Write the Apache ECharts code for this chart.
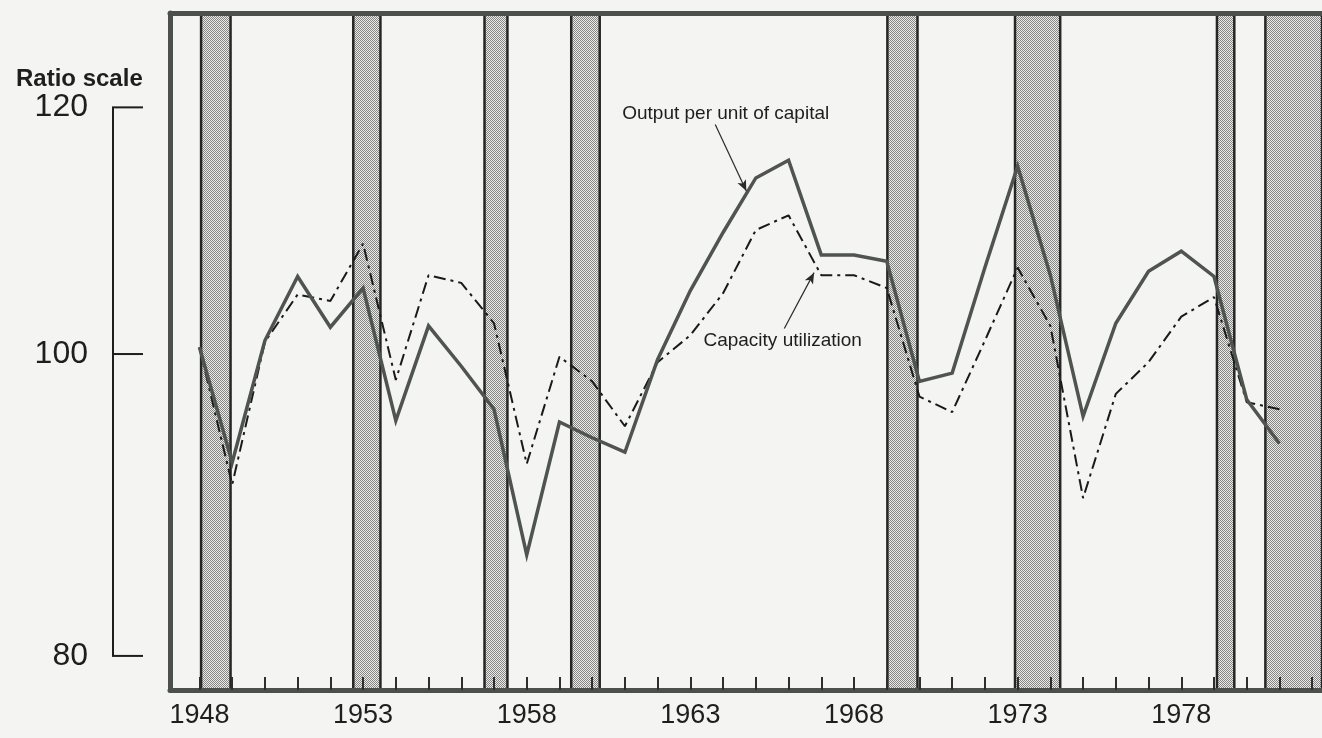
<!DOCTYPE html>
<html>
<head>
<meta charset="utf-8">
<script src="https://cdn.jsdelivr.net/npm/echarts@6/dist/echarts.min.js"></script>
<style>
  html, body { margin: 0; padding: 0; background: #f4f4f2; }
  #chart { width: 1322px; height: 738px; }
</style>
</head>
<body>
<div id="chart"></div>
<script>
// Annual observations, 1948-1981 (index values, ratio scale)
const years = [1948, 1949, 1950, 1951, 1952, 1953, 1954, 1955, 1956, 1957,
               1958, 1959, 1960, 1961, 1962, 1963, 1964, 1965, 1966, 1967,
               1968, 1969, 1970, 1971, 1972, 1973, 1974, 1975, 1976, 1977,
               1978, 1979, 1980, 1981];
const outputPerCapital = [100.5, 92.3, 101.0, 105.9, 102.0, 105.0, 95.2, 102.1, 99.1, 96.0,
                          86.2, 95.1, 94.0, 93.0, 99.6, 104.8, 109.4, 113.9, 115.4, 107.6,
                          107.6, 107.1, 98.0, 98.6, 106.6, 114.9, 106.0, 95.5, 102.3, 106.3,
                          107.9, 105.9, 96.7, 93.6];
const capacityUtilization = [100.5, 90.8, 100.9, 104.5, 104.0, 108.5, 98.1, 106.0, 105.4, 102.3,
                             92.2, 99.8, 98.0, 94.8, 99.4, 101.4, 104.6, 109.6, 110.8, 106.0,
                             106.0, 105.0, 96.9, 95.8, 101.0, 106.6, 102.1, 89.9, 97.1, 99.4,
                             102.8, 104.3, 96.5, 96.0];
// Shaded recession periods [start, end] in fractional years
const recessions = [[1948.05, 1948.95], [1952.70, 1953.53], [1956.71, 1957.41], [1959.36, 1960.23],
                    [1969.02, 1969.94], [1972.92, 1974.30], [1979.09, 1979.62], [1980.57, 1982.3]];
// Axis ticks and labels
const xLabelYears = [1948, 1953, 1958, 1963, 1968, 1973, 1978];
const xTickFirst = 1948, xTickLast = 1982;
const yTickValues = [80, 100, 120];
// Callout texts with anchor [year, value] and arrow [from, to]
const calloutOutput = { text: 'Output per unit of capital', at: [1964.08, 119.4], from: [1963.76, 118.5], to: [1964.71, 112.8] };
const calloutCapacity = { text: 'Capacity utilization', at: [1965.82, 101.0], from: [1965.87, 101.9], to: [1966.78, 106.2] };

const X_MIN = 1947.1, X_MAX = 1982.3;
const Y_MIN = 78.01, Y_MAX = 128.67;
const FRAME = '#4b504c';
const INK = '#1e1e1e';
const FONT = '"Liberation Sans", Arial, sans-serif';

const xTickYears = [];
for (let y = xTickFirst; y <= xTickLast; y++) xTickYears.push(y);

// fine dot screen used for the recession bands
function stipple() {
  const c = document.createElement('canvas');
  c.width = 2; c.height = 2;
  const g = c.getContext('2d');
  g.fillStyle = '#ebebe9'; g.fillRect(0, 0, 2, 2);
  g.fillStyle = '#858585'; g.fillRect(0, 0, 1, 1); g.fillRect(1, 1, 1, 1);
  return c;
}

const pair = arr => years.map((y, i) => [y, arr[i]]);

const chart = echarts.init(document.getElementById('chart'), null, { renderer: 'canvas' });

const option = {
  animation: false,
  backgroundColor: '#f4f4f2',
  title: {
    text: 'Ratio scale', left: 11, top: 62,
    textStyle: { fontFamily: FONT, fontSize: 24, fontWeight: 'bold', color: INK }
  },
  grid: { left: 170, top: 13, width: 1165.5, bottom: 48, containLabel: false },
  xAxis: [
    {
      type: 'value', min: X_MIN, max: X_MAX, position: 'bottom', z: 5,
      axisLine: { show: true, lineStyle: { color: FRAME, width: 5 } },
      axisTick: { show: true, inside: true, length: 13, customValues: xTickYears, lineStyle: { color: '#2e2e2e', width: 2 } },
      axisLabel: { customValues: xLabelYears, margin: 12, fontSize: 27, color: INK, fontFamily: FONT, formatter: v => String(v) },
      splitLine: { show: false }
    },
    {
      type: 'value', min: X_MIN, max: X_MAX, position: 'top', z: 5,
      axisLine: { show: true, lineStyle: { color: FRAME, width: 5 } },
      axisTick: { show: false }, axisLabel: { show: false }, splitLine: { show: false }
    }
  ],
  yAxis: [
    {
      type: 'log', logBase: 10, min: Y_MIN, max: Y_MAX, position: 'left', z: 5,
      axisLine: { show: true, lineStyle: { color: FRAME, width: 5 } },
      axisTick: { show: false }, axisLabel: { show: false },
      splitLine: { show: false }, minorTick: { show: false }
    }
  ],
  series: [
    {
      // recession shading
      type: 'line', data: [], z: 1, silent: true,
      markArea: {
        silent: true,
        itemStyle: { color: { image: stipple(), repeat: 'repeat' }, borderColor: '#262626', borderWidth: 2.5 },
        data: recessions.map(r => [{ xAxis: r[0] }, { xAxis: r[1] }])
      }
    },
    {
      // ratio-scale bracket with its tick labels
      type: 'custom', clip: false, silent: true, z: 6,
      data: [[X_MIN, yTickValues[0], yTickValues[yTickValues.length - 1]]],
      encode: { x: 0, y: [1, 2] },
      renderItem: function (params, api) {
        const lo = api.coord([api.value(0), api.value(1)]);
        const hi = api.coord([api.value(0), api.value(2)]);
        const bx = lo[0] - 57;
        const children = [{
          type: 'line', shape: { x1: bx, y1: hi[1], x2: bx, y2: lo[1] },
          style: { stroke: INK, lineWidth: 2 }
        }];
        yTickValues.forEach(v => {
          const p = api.coord([api.value(0), v]);
          children.push({
            type: 'line', shape: { x1: bx - 1, y1: p[1], x2: bx + 30, y2: p[1] },
            style: { stroke: INK, lineWidth: 2 }
          });
          children.push({
            type: 'text', x: bx - 25, y: p[1],
            style: { text: String(v), fill: INK, fontSize: 32, fontFamily: FONT, align: 'right', verticalAlign: 'middle' }
          });
        });
        return { type: 'group', children };
      }
    },
    {
      name: 'Capacity utilization',
      type: 'line', data: pair(capacityUtilization), z: 3,
      symbol: 'none', silent: true,
      lineStyle: { color: '#1a1a1a', width: 2, type: [12, 5, 3, 5] }
    },
    {
      name: 'Output per unit of capital',
      type: 'line', data: pair(outputPerCapital), z: 4,
      symbol: 'none', silent: true,
      lineStyle: { color: '#4f544f', width: 3.5, join: 'miter' },
      markLine: {
        silent: true, symbol: ['none', 'arrow'], symbolSize: [7, 11],
        lineStyle: { color: '#2a2a2a', width: 1.2, type: 'solid' },
        label: { show: false },
        data: [
          [{ coord: calloutOutput.from }, { coord: calloutOutput.to }],
          [{ coord: calloutCapacity.from }, { coord: calloutCapacity.to }]
        ]
      },
      markPoint: {
        silent: true, symbol: 'circle', symbolSize: 0,
        label: { show: true, position: 'inside', fontSize: 19, fontFamily: FONT, color: INK, formatter: p => p.name },
        data: [
          { name: calloutOutput.text, coord: calloutOutput.at },
          { name: calloutCapacity.text, coord: calloutCapacity.at }
        ]
      }
    }
  ]
};

chart.setOption(option);
</script>
</body>
</html>
